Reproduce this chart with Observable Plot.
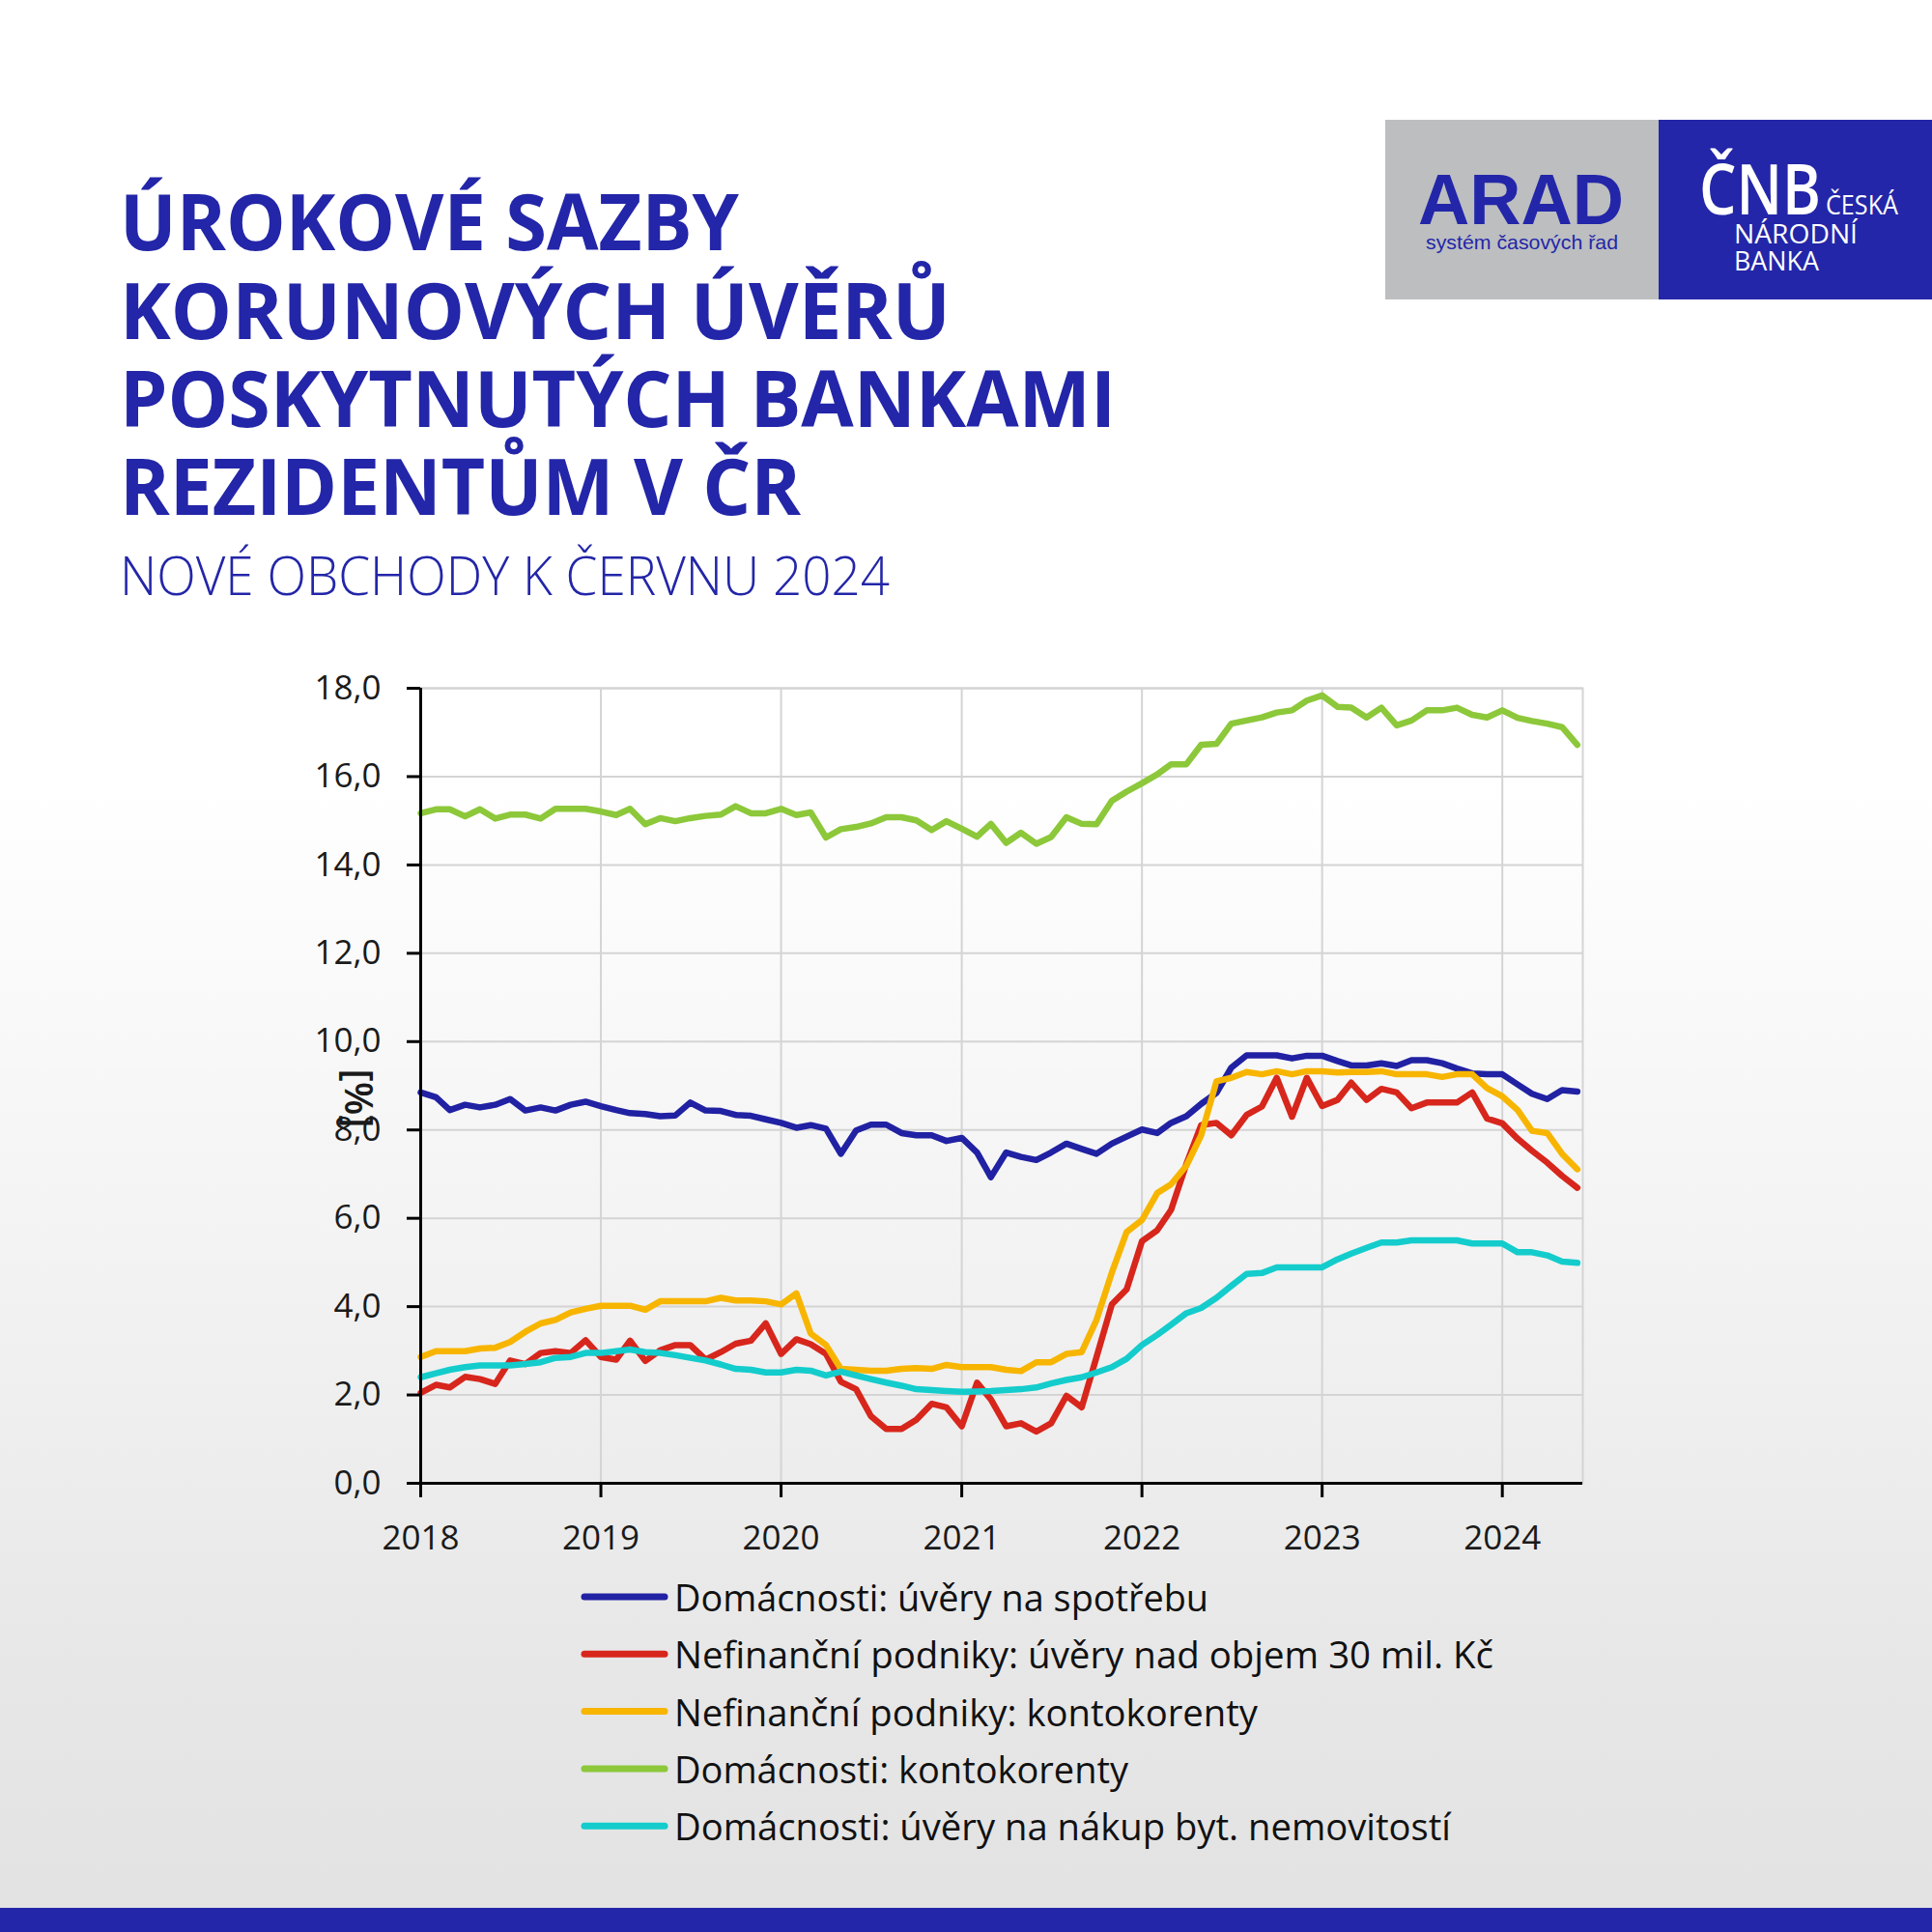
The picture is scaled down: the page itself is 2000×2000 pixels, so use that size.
<!DOCTYPE html>
<html>
<head>
<meta charset="utf-8">
<script src="https://cdn.jsdelivr.net/npm/d3@7"></script>
<script src="https://cdn.jsdelivr.net/npm/@observablehq/plot@0.6"></script>
<style>
html, body { margin: 0; padding: 0; }
#page {
  position: relative; width: 2000px; height: 2000px; overflow: hidden;
  background: linear-gradient(to bottom, #ffffff 0%, #ffffff 40%, #f7f7f7 56%, #efefef 72%, #e7e7e7 86%, #e2e2e2 100%);
  font-family: "Open Sans", sans-serif;
}
#chart { position: absolute; left: 0; top: 680px; }
#overlay { position: absolute; left: 0; top: 0; pointer-events: none; }
</style>
</head>
<body>
<div id="page"><div id="chart"></div></div>
<script>
// ---------------- data ----------------
const startYear = 2018;
const seriesNames = [
  "Domácnosti: úvěry na spotřebu",
  "Nefinanční podniky: úvěry nad objem 30 mil. Kč",
  "Nefinanční podniky: kontokorenty",
  "Domácnosti: kontokorenty",
  "Domácnosti: úvěry na nákup byt. nemovitostí"
];
const seriesColors = ["#2121a3", "#d7261c", "#f7b500", "#8cc83a", "#14cccc"];

const spotreba = [
  8.85, 8.74, 8.45, 8.57, 8.51, 8.57, 8.70, 8.44, 8.51, 8.44, 8.57, 8.64,
  8.54, 8.45, 8.38, 8.36, 8.31, 8.33, 8.62, 8.44, 8.43, 8.34, 8.32, 8.24,
  8.16, 8.05, 8.11, 8.03, 7.46, 7.99, 8.12, 8.12, 7.93, 7.88, 7.88, 7.75,
  7.82, 7.49, 6.93, 7.49, 7.39, 7.32, 7.49, 7.69, 7.57, 7.46, 7.69, 7.85,
  8.01, 7.93, 8.16, 8.31, 8.59, 8.84, 9.41, 9.69, 9.69, 9.69, 9.62, 9.68,
  9.68, 9.56, 9.46, 9.46, 9.51, 9.45, 9.58, 9.58, 9.51, 9.39, 9.28, 9.26,
  9.26, 9.03, 8.82, 8.70, 8.90, 8.87
];
const nad30mil = [
  2.05, 2.23, 2.17, 2.41, 2.36, 2.25, 2.78, 2.70, 2.95, 2.99, 2.95, 3.24,
  2.86, 2.80, 3.23, 2.77, 3.01, 3.13, 3.13, 2.80, 2.97, 3.16, 3.23, 3.62,
  2.93, 3.26, 3.15, 2.93, 2.30, 2.13, 1.52, 1.23, 1.23, 1.44, 1.80, 1.72,
  1.29, 2.28, 1.90, 1.29, 1.36, 1.17, 1.36, 1.98, 1.72, 2.86, 4.05, 4.39,
  5.48, 5.73, 6.19, 7.23, 8.11, 8.16, 7.88, 8.34, 8.53, 9.18, 8.30, 9.18,
  8.54, 8.68, 9.07, 8.68, 8.93, 8.85, 8.49, 8.62, 8.62, 8.62, 8.85, 8.26,
  8.15, 7.80, 7.53, 7.26, 6.96, 6.69
];
const kontoPodniky = [
  2.86, 2.99, 2.99, 2.99, 3.05, 3.07, 3.20, 3.43, 3.62, 3.70, 3.87, 3.95,
  4.02, 4.02, 4.02, 3.93, 4.12, 4.12, 4.12, 4.12, 4.20, 4.14, 4.14, 4.12,
  4.05, 4.30, 3.39, 3.13, 2.59, 2.57, 2.55, 2.55, 2.59, 2.61, 2.59, 2.68,
  2.63, 2.63, 2.63, 2.57, 2.54, 2.74, 2.74, 2.93, 2.97, 3.70, 4.77, 5.69,
  5.96, 6.57, 6.77, 7.19, 7.88, 9.10, 9.18, 9.31, 9.26, 9.33, 9.26, 9.33,
  9.33, 9.30, 9.31, 9.31, 9.33, 9.26, 9.26, 9.26, 9.20, 9.26, 9.26, 8.95,
  8.76, 8.45, 7.98, 7.93, 7.46, 7.11
];
const kontoDomacnosti = [
  15.17, 15.26, 15.26, 15.10, 15.26, 15.05, 15.14, 15.14, 15.05, 15.27, 15.27, 15.27,
  15.21, 15.13, 15.27, 14.92, 15.06, 14.99, 15.06, 15.11, 15.14, 15.33, 15.17, 15.17,
  15.27, 15.13, 15.19, 14.62, 14.81, 14.86, 14.94, 15.08, 15.08, 15.01, 14.79, 14.99,
  14.82, 14.64, 14.93, 14.50, 14.73, 14.48, 14.63, 15.08, 14.93, 14.92, 15.45, 15.66,
  15.85, 16.05, 16.28, 16.28, 16.72, 16.74, 17.20, 17.27, 17.34, 17.45, 17.50, 17.72,
  17.84, 17.58, 17.56, 17.34, 17.56, 17.16, 17.27, 17.50, 17.50, 17.56, 17.40, 17.34,
  17.50, 17.33, 17.26, 17.20, 17.12, 16.72
];
const bydleni = [
  2.40, 2.49, 2.57, 2.63, 2.67, 2.67, 2.67, 2.70, 2.74, 2.84, 2.86, 2.95,
  2.95, 2.99, 3.03, 2.97, 2.95, 2.90, 2.84, 2.78, 2.69, 2.59, 2.57, 2.51,
  2.51, 2.57, 2.55, 2.44, 2.53, 2.44, 2.36, 2.28, 2.21, 2.13, 2.11, 2.09,
  2.07, 2.08, 2.09, 2.11, 2.13, 2.17, 2.26, 2.34, 2.40, 2.51, 2.63, 2.82,
  3.13, 3.36, 3.59, 3.85, 3.97, 4.20, 4.47, 4.74, 4.76, 4.89, 4.89, 4.89,
  4.89, 5.07, 5.20, 5.33, 5.45, 5.45, 5.50, 5.50, 5.50, 5.50, 5.43, 5.43,
  5.43, 5.23, 5.23, 5.16, 5.02, 4.99
];
const seriesValues = [spotreba, nad30mil, kontoPodniky, kontoDomacnosti, bydleni];

const yTicks = [0, 2, 4, 6, 8, 10, 12, 14, 16, 18];
const yearTicks = [2018, 2019, 2020, 2021, 2022, 2023, 2024];

const titleLines = ["ÚROKOVÉ SAZBY", "KORUNOVÝCH ÚVĚRŮ", "POSKYTNUTÝCH BANKAMI", "REZIDENTŮM V ČR"];
const subtitle = "NOVÉ OBCHODY K ČERVNU 2024";
const yLabel = "[%]";

// ---------------- build table ----------------
const rows = [];
seriesValues.forEach((vals, si) => {
  vals.forEach((v, i) => {
    rows.push({date: new Date(Date.UTC(startYear, i, 1)), value: v, series: seriesNames[si]});
  });
});
const xTickDates = yearTicks.map(y => new Date(Date.UTC(y, 0, 1)));
const xStart = new Date(Date.UTC(2018, 0, 1));
const xEnd = new Date(Date.UTC(2024, 5, 12));

const BLUE = "#2326a8";

const chart = Plot.plot({
  width: 1700,
  height: 960,
  marginLeft: 435,
  marginRight: 62,
  marginTop: 32,
  marginBottom: 105,
  style: {background: "transparent", fontFamily: "'Open Sans', sans-serif", fontSize: "35px", color: "#1a1a1a", overflow: "visible"},
  x: {type: "utc", domain: [xStart, xEnd]},
  y: {domain: [0, 18]},
  color: {domain: seriesNames, range: seriesColors},
  marks: [
    Plot.gridY(yTicks, {stroke: "#d4d4d4", strokeOpacity: 1, strokeWidth: 2}),
    Plot.gridX(xTickDates, {stroke: "#d4d4d4", strokeOpacity: 1, strokeWidth: 2}),
    Plot.frame({stroke: "#d4d4d4", strokeWidth: 2}),
    Plot.line(rows, {x: "date", y: "value", z: "series", stroke: "series", strokeWidth: 6.5, strokeLinejoin: "round", strokeLinecap: "round"}),
    Plot.axisY(yTicks, {tickSize: 14, tickPadding: 27, stroke: "#000", strokeWidth: 3, fill: "#1a1a1a", fontSize: 35, label: null,
      tickFormat: d => d.toFixed(1).replace(".", ",")}),
    Plot.axisX(xTickDates, {tickSize: 15, tickPadding: 29, stroke: "#000", strokeWidth: 3, fill: "#1a1a1a", fontSize: 35, label: null,
      tickFormat: d3.utcFormat("%Y")}),
    Plot.ruleX([xStart], {stroke: "#000", strokeWidth: 3}),
    Plot.ruleY([0], {stroke: "#000", strokeWidth: 3})
  ]
});
document.getElementById("chart").appendChild(chart);

// ---------------- overlay: title, logo, legend ----------------
const svg = d3.select("#page").append("svg")
  .attr("id", "overlay").attr("width", 2000).attr("height", 2000);

// bottom bar
svg.append("rect").attr("x", 0).attr("y", 1975).attr("width", 2000).attr("height", 25).attr("fill", BLUE);

// logo
svg.append("rect").attr("x", 1434).attr("y", 124).attr("width", 283).attr("height", 186).attr("fill", "#bcbec0");
svg.append("rect").attr("x", 1717).attr("y", 124).attr("width", 283).attr("height", 186).attr("fill", BLUE);
svg.append("text").text("ARAD").attr("x", 1468).attr("y", 232)
  .attr("font-family", "'Liberation Sans', Arial, sans-serif").attr("font-weight", 700).attr("font-size", 75)
  .attr("fill", BLUE).attr("textLength", 213).attr("lengthAdjust", "spacingAndGlyphs");
svg.append("text").text("systém časových řad").attr("x", 1476).attr("y", 258)
  .attr("font-family", "'Liberation Sans', Arial, sans-serif").attr("font-size", 21)
  .attr("fill", BLUE).attr("textLength", 199).attr("lengthAdjust", "spacingAndGlyphs");
svg.append("text").text("ČNB").attr("x", 1759).attr("y", 222)
  .attr("font-family", "'Open Sans', sans-serif").attr("font-weight", 600).attr("font-size", 72)
  .attr("fill", "#fff").attr("textLength", 126).attr("lengthAdjust", "spacingAndGlyphs");
svg.append("text").text("ČESKÁ").attr("x", 1890).attr("y", 222)
  .attr("font-family", "'Open Sans', sans-serif").attr("font-size", 28)
  .attr("fill", "#fff").attr("textLength", 75).attr("lengthAdjust", "spacingAndGlyphs");
svg.append("text").text("NÁRODNÍ").attr("x", 1795).attr("y", 252)
  .attr("font-family", "'Open Sans', sans-serif").attr("font-size", 28)
  .attr("fill", "#fff").attr("textLength", 128).attr("lengthAdjust", "spacingAndGlyphs");
svg.append("text").text("BANKA").attr("x", 1795).attr("y", 280)
  .attr("font-family", "'Open Sans', sans-serif").attr("font-size", 28)
  .attr("fill", "#fff").attr("textLength", 88).attr("lengthAdjust", "spacingAndGlyphs");

// title
const titleLayout = [
  {y: 259, w: 641},
  {y: 351, w: 860},
  {y: 442, w: 1031},
  {y: 533, w: 705}
];
titleLines.forEach((t, i) => {
  svg.append("text").text(t).attr("x", 124).attr("y", titleLayout[i].y)
    .attr("font-family", "'Open Sans', sans-serif").attr("font-weight", 700).attr("font-size", 81)
    .attr("fill", BLUE).attr("textLength", titleLayout[i].w).attr("lengthAdjust", "spacingAndGlyphs");
});
svg.append("text").text(subtitle).attr("x", 124).attr("y", 616)
  .attr("font-family", "'Open Sans', sans-serif").attr("font-weight", 300).attr("font-size", 55)
  .attr("fill", BLUE).attr("textLength", 797).attr("lengthAdjust", "spacingAndGlyphs");

// y label
svg.append("text").text(yLabel)
  .attr("transform", "translate(368,1137) rotate(90)")
  .attr("text-anchor", "middle").attr("dominant-baseline", "middle")
  .attr("font-family", "'Open Sans', sans-serif").attr("font-weight", 600).attr("font-size", 40)
  .attr("fill", "#1a1a1a");

// legend
const legendWidths = [553, 848, 604, 470, 804];
seriesNames.forEach((name, i) => {
  const ly = 1653 + 59.3 * i;
  svg.append("line").attr("x1", 605).attr("x2", 688).attr("y1", ly).attr("y2", ly)
    .attr("stroke", seriesColors[i]).attr("stroke-width", 7).attr("stroke-linecap", "round");
  svg.append("text").text(name).attr("x", 698).attr("y", ly + 15)
    .attr("font-family", "'Open Sans', sans-serif").attr("font-size", 39).attr("fill", "#111")
    .attr("textLength", legendWidths[i]).attr("lengthAdjust", "spacingAndGlyphs");
});
</script>
</body>
</html>
